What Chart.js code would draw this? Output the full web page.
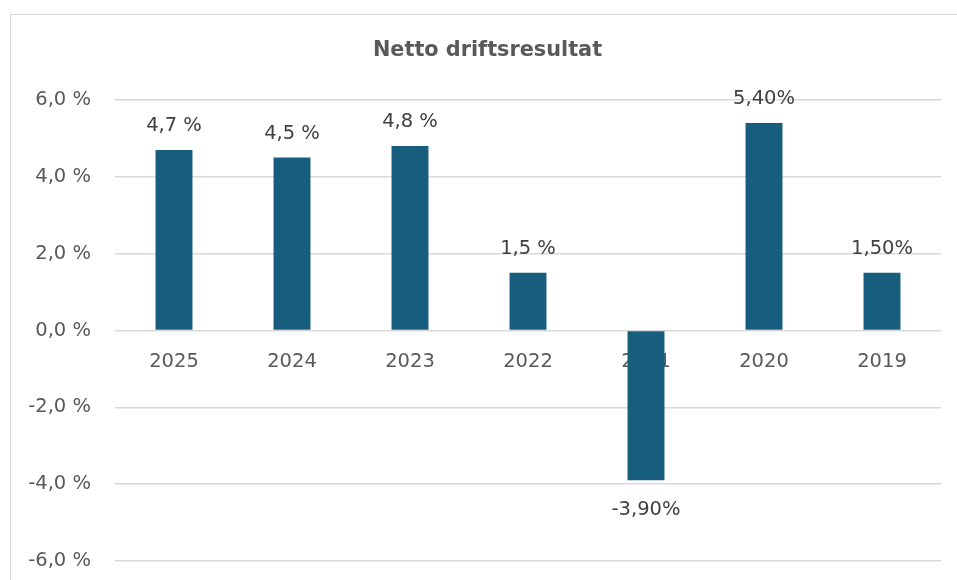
<!DOCTYPE html>
<html>
<head>
<meta charset="utf-8">
<script src="https://cdn.jsdelivr.net/npm/chart.js@4/dist/chart.umd.min.js"></script>
<style>
  html, body { margin: 0; padding: 0; background: #ffffff; overflow: hidden; width: 957px; height: 580px; }
  #box { position: absolute; left: 10px; top: 14px; border-left: 1px solid #D9D9D9; border-top: 1px solid #D9D9D9; }
  canvas { display: block; }
</style>
</head>
<body>
<div id="box"><canvas id="c" width="953" height="600"></canvas></div>
<script>
const chartTitle = "Netto driftsresultat";
const categories = ["2025", "2024", "2023", "2022", "2021", "2020", "2019"];
const seriesValues = [4.7, 4.5, 4.8, 1.5, -3.9, 5.4, 1.5];
const valueLabels = ["4,7 %", "4,5 %", "4,8 %", "1,5 %", "-3,90%", "5,40%", "1,50%"];
const yTickLabels = ["-6,0 %", "-4,0 %", "-2,0 %", "0,0 %", "2,0 %", "4,0 %", "6,0 %"];

const FONT = "'DejaVu Sans', sans-serif";

const valueLabelPlugin = {
  id: 'valueLabels',
  afterDatasetsDraw(chart) {
    const ctx = chart.ctx;
    const meta = chart.getDatasetMeta(0);
    ctx.save();
    ctx.font = "19.5px " + FONT;
    ctx.fillStyle = "#404040";
    ctx.textAlign = "center";
    ctx.textBaseline = "alphabetic";
    meta.data.forEach((bar, i) => {
      const v = seriesValues[i];
      const y = v >= 0 ? bar.y - 19 : bar.y + 35;
      ctx.fillText(valueLabels[i], bar.x, y);
    });
    ctx.restore();
  }
};

new Chart(document.getElementById('c'), {
  type: 'bar',
  data: {
    labels: categories,
    datasets: [{
      data: seriesValues,
      backgroundColor: '#175E7E',
      borderWidth: 0,
      barPercentage: 1,
      categoryPercentage: 0.313
    }]
  },
  options: {
    responsive: false,
    animation: false,
    layout: { padding: { left: 0, right: 0, top: 0, bottom: 54 } },
    plugins: {
      legend: { display: false },
      tooltip: { enabled: false },
      title: {
        display: true,
        text: chartTitle,
        color: '#595959',
        font: { family: FONT, size: 20.8, weight: 'bold' },
        padding: { top: 23, bottom: 37 }
      }
    },
    scales: {
      x: {
        position: { y: 0 },
        z: 1,
        grid: { display: false, drawTicks: false },
        border: { display: false },
        ticks: {
          color: '#595959',
          font: { family: FONT, size: 19.5 },
          padding: 20,
          maxRotation: 0
        }
      },
      y: {
        min: -6,
        max: 6,
        afterFit(scale) { scale.width = 104; },
        grid: { color: '#D9D9D9', lineWidth: 1.5, drawTicks: false },
        border: { display: false },
        ticks: {
          stepSize: 2,
          color: '#595959',
          font: { family: FONT, size: 19.5 },
          padding: 24,
          callback: (v, i) => yTickLabels[i]
        }
      },
      yRight: {
        position: 'right',
        min: -6,
        max: 6,
        afterFit(scale) { scale.width = 23; },
        grid: { display: false, drawTicks: false },
        border: { display: false },
        ticks: { display: false }
      }
    }
  },
  plugins: [valueLabelPlugin]
});
</script>
</body>
</html>
